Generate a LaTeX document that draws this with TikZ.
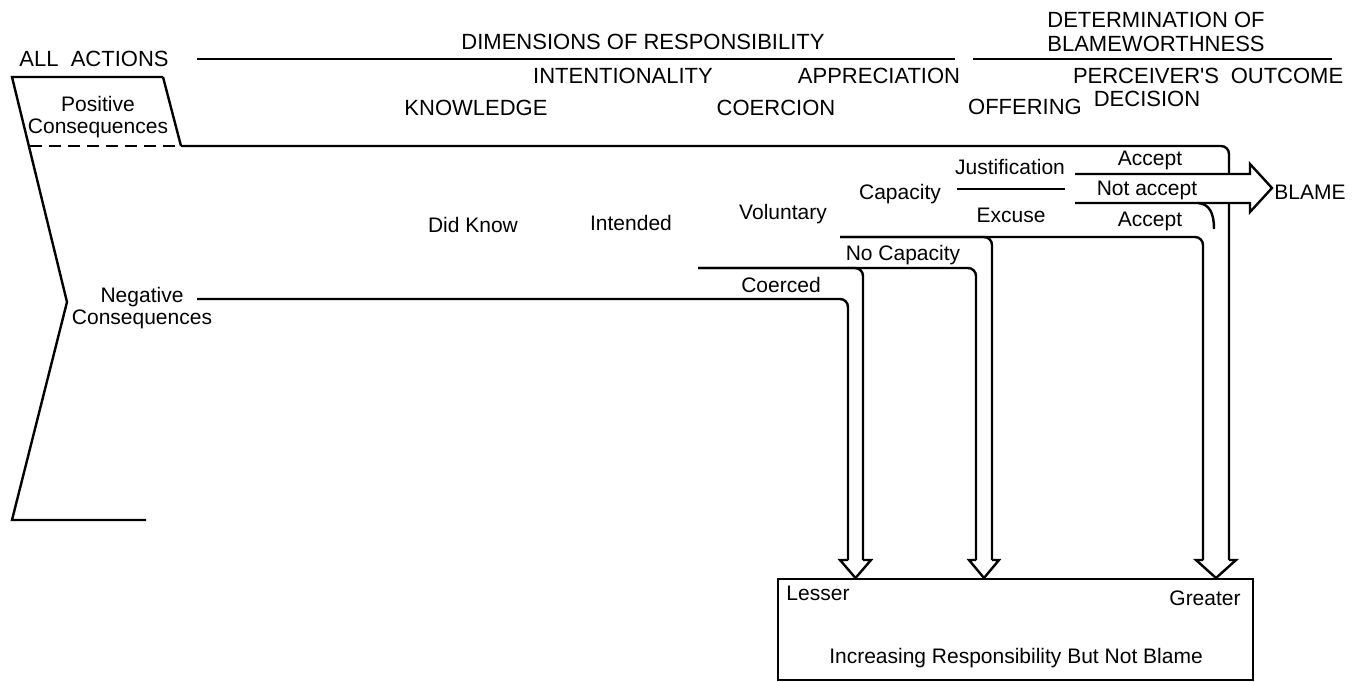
\documentclass[tikz,border=0pt]{standalone}
\usepackage{fontspec}
\setmainfont{Liberation Sans}
\usetikzlibrary{positioning}

\begin{document}
\begin{tikzpicture}[x=1pt,y=-1pt,line width=2.4pt,line cap=butt,
  flow/.style={line width=2.4pt,rounded corners=8pt},
  hd/.style={line width=2.4pt,line join=miter},
  caps/.style={font=\fontsize{22}{23}\selectfont,inner sep=0pt,anchor=base},
  lbl/.style={font=\fontsize{21}{22}\selectfont,inner sep=0pt,anchor=base,align=center}]
\fill[white] (0,0) rectangle (1355,682);
\useasboundingbox (0,0) rectangle (1355,682);
% corners of the all-actions frame
\coordinate (aTL) at (12,77);
\coordinate (aTR) at (163,77);
\coordinate (pL) at (30,146);
\coordinate (pos) at (181,146);
\coordinate (vtx) at (67,302);
\coordinate (aBL) at (12,520);
\coordinate (aBR) at (146,520);
% starts of the flows
\coordinate (neg) at (197,299);
\coordinate (coe) at (698,268);
\coordinate (noc) at (840,237);
% arrow tips on the box
\coordinate (t1) at (855.5,578);
\coordinate (t2) at (984,578);
\coordinate (t3) at (1216,578);
\draw (197,59) -- (955,59);
\draw (973,59) -- (1332,59);
\draw (aTR) -- (aTL) -- (vtx) -- (aBL) -- (aBR);
\draw (aTR) -- (pos);
\draw[dash pattern=on 12pt off 7pt] (pL) -- (pos);
% flow to lesser
\draw[flow] (neg) -- (848,299) -- (848,560);
\draw[flow] (coe) -- (863,268) -- (863,560);
\draw[hd] (848,560) -- (840,560) -- (t1) -- (871,560) -- (863,560);
% flow of no capacity
\draw[flow] (coe) -- (976,268) -- (976,560);
\draw[flow] (noc) -- (992,237) -- (992,560);
\draw[hd] (976,560) -- (969,560) -- (t2) -- (999,560) -- (992,560);
% flow to greater
\draw[flow] (noc) -- (1203,237) -- (1203,560);
\draw[flow] (pos) -- (1229,146) -- (1229,560);
\draw[hd] (1203,560) -- (1196,560) -- (t3) -- (1236,560) -- (1229,560);
% decision on the offering
\draw (957,189) -- (1065,189);
\draw[hd,fill=white] (1075,174) -- (1250,174) -- (1250,164) -- (1272,188) -- (1250,212) -- (1250,203) -- (1075,203);
\draw (1198,203) .. controls (1210,204) and (1214,214) .. (1214,229);
\node[draw,line width=2.4pt,anchor=north west,inner sep=0pt,minimum width=475pt,minimum height=101pt] (box) at (777,578) {};
% headings
\node[caps] (all) at (94,67) {ALL\ \ ACTIONS};
\node[caps] (dim) at (643,50) {DIMENSIONS OF RESPONSIBILITY};
\node[caps] (det) at (1156,28) {DETERMINATION OF};
\node[caps] (bw) at (1156,52) {BLAMEWORTHNESS};
\node[caps] (int) at (623,84) {INTENTIONALITY};
\node[caps] (app) at (879,84) {APPRECIATION};
\node[caps] (per) at (1146,84) {PERCEIVER\textquotesingle S};
\node[caps] (out) at (1287,84) {OUTCOME};
\node[caps] (kno) at (476,116) {KNOWLEDGE};
\node[caps] (coer) at (776,116) {COERCION};
\node[caps] (off) at (1025,115) {OFFERING};
\node[caps] (dec) at (1147,107) {DECISION};
% labels
\node[lbl] (posc) at (98,134) {Positive\\Consequences};
\node[lbl] (negc) at (142,324) {Negative\\Consequences};
\node[lbl] (dk) at (473,232) {Did Know};
\node[lbl] (inte) at (631,230) {Intended};
\node[lbl] (vol) at (783,219) {Voluntary};
\node[lbl] (cap) at (900,200) {Capacity};
\node[lbl] (just) at (1010,175) {Justification};
\node[lbl] (exc) at (1011,222) {Excuse};
\node[lbl] (acc1) at (1150,166) {Accept};
\node[lbl] (nacc) at (1147,196) {Not accept};
\node[lbl] (acc2) at (1150,226) {Accept};
\node[caps,font=\fontsize{21}{22}\selectfont] (blame) at (1310,199) {BLAME};
\node[lbl] (nocap) at (903,260) {No Capacity};
\node[lbl] (coed) at (781,292) {Coerced};
\node[lbl] (les) at (818,600) {Lesser};
\node[lbl] (gre) at (1205,605) {Greater};
\node[lbl] (inc) at (1016,663) {Increasing Responsibility But Not Blame};
\end{tikzpicture}
\end{document}
